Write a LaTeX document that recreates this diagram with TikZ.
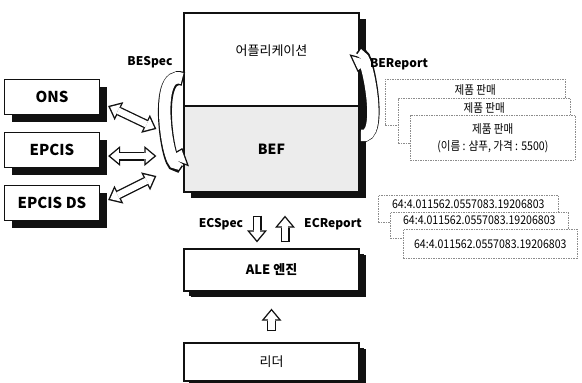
\documentclass[tikz,border=0pt]{standalone}
\usepackage{fontspec}
\setmainfont{Noto Sans CJK KR}
\newfontfamily\docfont[FakeStretch=0.88]{Noto Sans CJK KR}
\usepackage{tikz}
\usetikzlibrary{arrows.meta,positioning,shadows}
\definecolor{cBef}{HTML}{ECECEC}
\definecolor{cDoc}{HTML}{8C8C8C}
\definecolor{cInk}{HTML}{111111}
\tikzset{
  sys/.style  ={draw=cInk, line width=1.3pt, fill=white, minimum width=95pt, minimum height=35pt,
                font=\bfseries\fontsize{15}{17}\selectfont,
                drop shadow={shadow xshift=7pt, shadow yshift=-7pt, fill=cInk, opacity=1}},
  layer/.style={draw=cInk, line width=1.3pt, fill=white, minimum width=175pt,
                font=\fontsize{13}{15}\selectfont,
                drop shadow={shadow xshift=7pt, shadow yshift=-6pt, fill=cInk, opacity=1}},
  tag/.style  ={font=\bfseries\fontsize{12}{14}\selectfont, inner sep=1pt},
  docbox/.style={draw=cDoc, dash pattern=on 1.5pt off 1pt, line width=.6pt, fill=white,
                anchor=north west, inner sep=0pt},
  doctext/.style={font=\docfont\fontsize{12}{17}\selectfont, align=center, inner sep=1pt},
  % hollow arrows: black body, white inside
  hollow/.style={draw=cInk, line width=9pt,
                {Triangle[length=12pt,width=20pt,line width=0pt]}-{Triangle[length=12pt,width=20pt,line width=0pt]},
                postaction={draw=white, line width=6.4pt, shorten <=2.2pt, shorten >=2.2pt,
                {Triangle[length=8.5pt,width=14.2pt,line width=0pt]}-{Triangle[length=8.5pt,width=14.2pt,line width=0pt]}}},
  hollowup/.style={draw=cInk, line width=9pt, -{Triangle[length=12pt,width=20pt,line width=0pt]},
                postaction={draw=white, line width=6.4pt, shorten <=1.3pt, shorten >=2.2pt,
                -{Triangle[length=8.5pt,width=14.2pt,line width=0pt]}}},
  curvarrow/.style={draw=cInk, line width=14pt, -{Triangle[length=15pt,width=25pt,line width=0pt]},
                postaction={draw=white, line width=11.4pt, shorten <=1.3pt, shorten >=2.1pt,
                -{Triangle[length=11.6pt,width=19.3pt,line width=0pt]}}},
}
\begin{document}
\begin{tikzpicture}[x=1pt, y=-1pt]
    \useasboundingbox (0,0) rectangle (582,383);
    % external services
    \node[sys] (ons)     at (52,97)  {ONS};
    \node[sys] (epcis)   at (52,150) {EPCIS};
    \node[sys] (epcisds) at (52,203) {EPCIS DS};
    % application over BEF
    \node[layer, minimum height=93pt, text depth=19pt] (app) at (271.5,59.5) {어플리케이션};
    \node[layer, minimum height=86pt, fill=cBef, font=\bfseries\fontsize{14}{16}\selectfont] (bef) at (271.5,149) {BEF};
    \node[layer, minimum height=42pt, font=\bfseries\fontsize{13}{15}\selectfont,
          drop shadow={shadow xshift=5pt, shadow yshift=-5pt, fill=cInk, opacity=1}] (ale) at (271.5,270) {ALE 엔진};
    \node[layer, minimum height=38pt,
          drop shadow={shadow xshift=5pt, shadow yshift=-5pt, fill=cInk, opacity=1}] (reader) at (271.5,362) {리더};
    % BE reports
    \node[docbox, minimum width=180pt, minimum height=46pt] (r1) at (385,79) {};
    \node[doctext, below=4pt of r1.north] (rt1) {제품 판매};
    \node[docbox, minimum width=172pt, minimum height=45pt] (r2) at (398,98) {};
    \node[doctext, below=3pt of r2.north] (rt2) {제품 판매};
    \node[docbox, minimum width=165pt, minimum height=45pt, doctext, anchor=north west] (r3) at (410,115) {제품 판매\\(이름 : 샴푸, 가격 : 5500)};
    % EC reports
    \node[docbox, minimum width=180pt, minimum height=27pt] (e1) at (378,195) {};
    \node[doctext, below=4pt of e1.north] (et1) {64:4.011562.0557083.19206803};
    \node[docbox, minimum width=178pt, minimum height=26pt] (e2) at (390,212) {};
    \node[doctext, below=3pt of e2.north] (et2) {64:4.011562.0557083.19206803};
    \node[docbox, minimum width=174pt, minimum height=29pt, doctext, anchor=north west] (e3) at (403,229) {64:4.011562.0557083.19206803};
    % connectors
    \draw[hollow]([xshift=8pt,yshift=-9pt]ons.east)--([xshift=-27pt,yshift=20pt]bef.west);
    \draw[hollow]([xshift=8pt,yshift=-6pt]epcis.east)--([xshift=-27pt,yshift=-7pt]bef.west);
    \draw[hollow]([xshift=8pt,yshift=3pt]epcisds.east)--([xshift=-27pt,yshift=-27pt]bef.west);
    \draw[hollowup]([xshift=-14.5pt,yshift=-23pt]bef.south)--([xshift=-14.5pt,yshift=6pt]ale.north);
    \draw[hollowup]([xshift=13.5pt,yshift=6pt]ale.north)--([xshift=13.5pt,yshift=-23pt]bef.south);
    \draw[hollowup]([yshift=11pt]reader.north)--([yshift=-17pt]ale.south);
    \draw[curvarrow]([yshift=-19.5pt]app.west) to[out=160,in=250,looseness=1.3] ([xshift=-1pt,yshift=1pt]bef.west);
    \draw[curvarrow]([yshift=14pt]bef.east) to[out=-15,in=75,looseness=1.1] ([xshift=-2pt,yshift=-12.5pt]app.east);
    % labels
    \node[tag] (bespec)   at (150,62)  {BESpec};
    \node[tag] (bereport) at (399,64)  {BEReport};
    \node[tag] (ecspec)   at (221,224) {ECSpec};
    \node[tag] (ecreport) at (333,224) {ECReport};
\end{tikzpicture}
\end{document}
